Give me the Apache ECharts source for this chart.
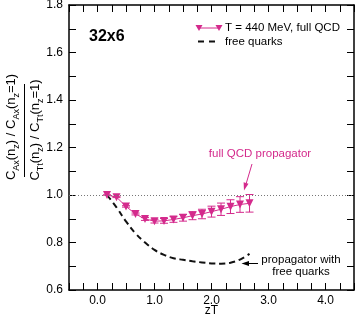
<!DOCTYPE html>
<html><head><meta charset="utf-8">
<script src="https://cdn.jsdelivr.net/npm/echarts@6/dist/echarts.min.js"></script>
<style>html,body{margin:0;padding:0;background:#fff}#c{width:356px;height:317px}</style>
</head><body><div id="c"></div>
<script>
// zT = n_z / 6 for the 32x6 lattice
var zT = [0.167, 0.333, 0.5, 0.667, 0.833, 1.0, 1.167, 1.333, 1.5, 1.667, 1.833, 2.0, 2.167, 2.333, 2.5, 2.667];
var qcdValues = [1.000, 0.991, 0.952, 0.920, 0.899, 0.890, 0.891, 0.897, 0.904, 0.913, 0.920, 0.930, 0.940, 0.951, 0.960, 0.965];
var qcdErrors = [0.000, 0.002, 0.003, 0.004, 0.006, 0.008, 0.010, 0.012, 0.014, 0.017, 0.020, 0.023, 0.026, 0.029, 0.033, 0.037];
var freeValues = [1.000, 0.948, 0.889, 0.838, 0.800, 0.769, 0.748, 0.734, 0.727, 0.721, 0.716, 0.712, 0.711, 0.715, 0.728, 0.752];
var xTickLabels = ['0.0', '1.0', '2.0', '3.0', '4.0'];
var yTickLabels = ['0.6', '0.8', '1.0', '1.2', '1.4', '1.6', '1.8'];

var MAG = '#d42a8c';
var FONT = "'Liberation Sans', Arial, Helvetica, sans-serif";

var chart = echarts.init(document.getElementById('c'), null, {renderer: 'canvas'});

function xFmt(v) {
  var s = (Math.round(v * 4) / 4).toFixed(1);
  return xTickLabels.indexOf(s) >= 0 && Math.abs(v - Math.round(v)) < 1e-6 ? s : '';
}
function yFmt(v) {
  var s = (Math.round(v * 10) / 10).toFixed(1);
  return yTickLabels.indexOf(s) >= 0 ? s : '';
}

var axisCommon = {
  axisLine: {show: true, onZero: false, lineStyle: {color: '#000', width: 1.5}},
  axisTick: {show: true, inside: true, length: 7, lineStyle: {color: '#000', width: 1}},
  splitLine: {show: false}
};

var qcdPoints = zT.map(function (x, i) { return [x, qcdValues[i]]; });
var errData = zT.map(function (x, i) { return [x, qcdValues[i] - qcdErrors[i], qcdValues[i] + qcdErrors[i]]; });
var freePoints = zT.map(function (x, i) { return [x, freeValues[i]]; });

var option = {
  animation: false,
  grid: {left: 69, right: 2, top: 5, bottom: 27, containLabel: false, outerBoundsMode: 'none'},
  xAxis: [
    Object.assign({}, axisCommon, {
      type: 'value', min: -0.5, max: 4.5, interval: 0.25, position: 'bottom',
      axisLabel: {formatter: xFmt, fontSize: 12, color: '#000', margin: 5, fontFamily: FONT}
    }),
    Object.assign({}, axisCommon, {
      type: 'value', min: -0.5, max: 4.5, interval: 0.25, position: 'top',
      axisLabel: {show: false}
    })
  ],
  yAxis: [
    Object.assign({}, axisCommon, {
      type: 'value', min: 0.6, max: 1.8, interval: 0.1, position: 'left',
      axisLabel: {formatter: yFmt, fontSize: 12, color: '#000', margin: 6, fontFamily: FONT}
    }),
    Object.assign({}, axisCommon, {
      type: 'value', min: 0.6, max: 1.8, interval: 0.1, position: 'right',
      axisLabel: {show: false}
    })
  ],
  series: [
    {
      type: 'line', data: freePoints, xAxisIndex: 0, yAxisIndex: 0,
      showSymbol: false, symbol: 'none', smooth: 0.4,
      lineStyle: {color: '#111', width: 2, type: [6, 4]},
      markLine: {
        silent: true, symbol: 'none', label: {show: false},
        lineStyle: {color: '#777', width: 1, type: [1, 2]},
        data: [{yAxis: 1.0}]
      },
      z: 2
    },
    {
      type: 'custom', xAxisIndex: 0, yAxisIndex: 0, data: errData,
      encode: {x: 0, y: [1, 2]},
      renderItem: function (params, api) {
        var x = api.value(0);
        var lo = api.coord([x, api.value(1)]);
        var hi = api.coord([x, api.value(2)]);
        var w = 4;
        var st = {stroke: MAG, lineWidth: 1};
        return {type: 'group', children: [
          {type: 'line', shape: {x1: lo[0], y1: lo[1], x2: hi[0], y2: hi[1]}, style: st},
          {type: 'line', shape: {x1: lo[0] - w, y1: lo[1], x2: lo[0] + w, y2: lo[1]}, style: st},
          {type: 'line', shape: {x1: hi[0] - w, y1: hi[1], x2: hi[0] + w, y2: hi[1]}, style: st}
        ]};
      },
      z: 3
    },
    {
      type: 'line', data: qcdPoints, xAxisIndex: 0, yAxisIndex: 0,
      symbol: 'triangle', symbolRotate: 180, symbolSize: [8, 8], showSymbol: true,
      lineStyle: {color: MAG, width: 1},
      itemStyle: {color: MAG},
      z: 4
    }
  ],
  graphic: [
    {type: 'text', left: 89, top: 29, style: {text: '32x6', font: 'bold 16px ' + FONT, fill: '#000'}},
    {type: 'text', x: 211.5, y: 310.5, style: {text: 'zT', font: '12px ' + FONT, fill: '#000', textAlign: 'center', textVerticalAlign: 'middle'}},
    // legend
    {type: 'line', shape: {x1: 199, y1: 28, x2: 219, y2: 28}, style: {stroke: MAG, lineWidth: 1}},
    {type: 'polygon', shape: {points: [[195.5, 25], [202.5, 25], [199, 31]]}, style: {fill: MAG}},
    {type: 'polygon', shape: {points: [[215.5, 25], [222.5, 25], [219, 31]]}, style: {fill: MAG}},
    {type: 'text', x: 225, y: 27.5, style: {text: 'T = 440 MeV, full QCD', font: '11.5px ' + FONT, fill: '#000', textVerticalAlign: 'middle'}},
    {type: 'line', shape: {x1: 198, y1: 41.5, x2: 219, y2: 41.5}, style: {stroke: '#111', lineWidth: 2, lineDash: [6, 5]}},
    {type: 'text', x: 225, y: 41.5, style: {text: 'free quarks', font: '11.5px ' + FONT, fill: '#000', textVerticalAlign: 'middle'}},
    // annotations
    {type: 'text', x: 260, y: 154, style: {text: 'full QCD propagator', font: '11.5px ' + FONT, fill: MAG, textAlign: 'center', textVerticalAlign: 'middle'}},
    {type: 'line', shape: {x1: 252, y1: 164, x2: 246.2, y2: 183.5}, style: {stroke: MAG, lineWidth: 1}},
    {type: 'polygon', shape: {points: [[244, 190.5], [248.5, 183.8], [243.6, 182.3]]}, style: {fill: MAG}},
    {type: 'text', x: 301, y: 266, style: {text: 'propagator with\nfree quarks', font: '11.5px ' + FONT, fill: '#000', textAlign: 'center', textVerticalAlign: 'middle', lineHeight: 12}},
    {type: 'line', shape: {x1: 258, y1: 263.5, x2: 248, y2: 263.5}, style: {stroke: '#000', lineWidth: 1}},
    {type: 'polygon', shape: {points: [[241.5, 263.5], [249, 261], [249, 266]]}, style: {fill: '#000'}},
    // y-axis title (rotated fraction)
    {type: 'text', x: 11, y: 127, rotation: Math.PI / 2,
      style: {
        text: 'C{s|Ax}(n{s|z}) / C{s|Ax}(n{s|z}=1)',
        font: '13px ' + FONT, fill: '#000', textAlign: 'center', textVerticalAlign: 'middle',
        rich: {s: {fontSize: 9, fontFamily: FONT, fill: '#000', verticalAlign: 'bottom', lineHeight: 9, padding: [0, 0, -4, 0]}}
      }},
    {type: 'line', shape: {x1: 24.5, y1: 84, x2: 24.5, y2: 177}, style: {stroke: '#000', lineWidth: 1}},
    {type: 'text', x: 35, y: 130, rotation: Math.PI / 2,
      style: {
        text: 'C{s|Tt}(n{s|z}) / C{s|Tt}(n{s|z}=1)',
        font: '13px ' + FONT, fill: '#000', textAlign: 'center', textVerticalAlign: 'middle',
        rich: {s: {fontSize: 9, fontFamily: FONT, fill: '#000', verticalAlign: 'bottom', lineHeight: 9, padding: [0, 0, -4, 0]}}
      }}
  ]
};
chart.setOption(option);
</script>
</body></html>
